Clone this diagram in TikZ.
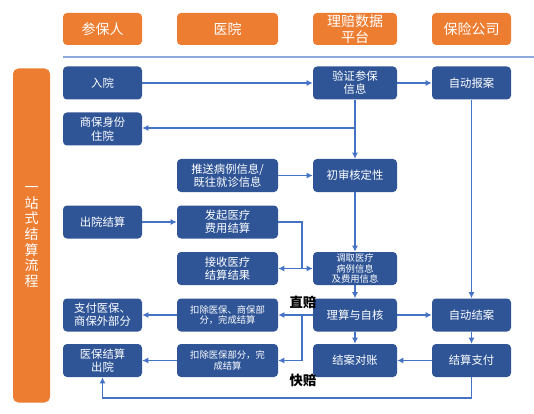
\documentclass[tikz,border=0pt]{standalone}
\usepackage{fontspec}
\setmainfont{Noto Sans CJK SC}
\usetikzlibrary{arrows.meta}
\definecolor{hdorange}{HTML}{ED7D31}
\definecolor{bxblue}{HTML}{2F5597}
\definecolor{lnblue}{HTML}{4472C4}
\definecolor{rule}{HTML}{8FAADC}
\tikzset{
  hdr/.style={fill=hdorange, text=white, rounded corners=3pt, minimum height=32*0.75pt, inner sep=1pt, align=center, font=\fontsize{10.5}{12}\selectfont},
  bx/.style={fill=bxblue, text=white, rounded corners=3pt, minimum height=33*0.75pt, inner sep=1pt, align=center, font=\fontsize{8.5}{10}\selectfont},
  small/.style={font=\fontsize{7}{8}\selectfont},
  c1/.style={minimum width=79*0.75pt},
  c2/.style={minimum width=101*0.75pt},
  c3/.style={minimum width=84*0.75pt},
  c4/.style={minimum width=79*0.75pt},
  arr/.style={draw=lnblue, line width=0.9pt, -{Latex[length=4.5pt,width=4.5pt]}},
  ln/.style={draw=lnblue, line width=0.9pt},
  lbl/.style={font=\fontsize{10}{12}\selectfont\bfseries, text=black, inner sep=1pt}
}
\begin{document}
\begin{tikzpicture}[x=0.75pt,y=-0.75pt]
\useasboundingbox (0,0) rectangle (534,413);
% headers
\node[hdr,c1] (h1) at (102.5,29) {参保人};
\node[hdr,c2] (h2) at (227.5,29) {医院};
\node[hdr,c3] (h3) at (355,29) {理赔数据\\平台};
\node[hdr,c4] (h4) at (471.5,29) {保险公司};
\draw[rule, line width=0.8pt] (63,57) -- (534,57);
% side bar
\node[fill=hdorange, rounded corners=4pt, minimum width=37*0.75pt, minimum height=334*0.75pt, inner sep=0pt] (side) at (31.5,235.5) {};
\node[text=white, align=center, font=\fontsize{10.5}{11.8}\selectfont] (sidet) at (31.5,237) {一\\站\\式\\结\\算\\流\\程};
% row 1
\node[bx,c1] (ruyuan) at (102.5,83) {入院};
\node[bx,c3] (yanzheng) at (355,83) {验证参保\\信息};
\node[bx,c4] (baoan) at (471.5,83) {自动报案};
% row 2
\node[bx,c1] (shangbao) at (102.5,129) {商保身份\\住院};
% row 3
\node[bx,c2] (tuisong) at (227.5,175.5) {推送病例信息/\\既往就诊信息};
\node[bx,c3] (chushen) at (355,175.5) {初审核定性};
% row 4
\node[bx,c1] (chuyuan) at (102.5,222) {出院结算};
\node[bx,c2] (faqi) at (227.5,222) {发起医疗\\费用结算};
% row 5
\node[bx,c2] (jieshou) at (227.5,268.5) {接收医疗\\结算结果};
\node[bx,c3,small] (diaoqu) at (355,268.5) {调取医疗\\病例信息\\及费用信息};
% row 6
\node[bx,c1] (zhifu) at (102.5,315) {支付医保、\\商保外部分};
\node[bx,c2,small] (kouchu1) at (227.5,315) {扣除医保、商保部\\分，完成结算};
\node[bx,c3] (lisuan) at (355,315) {理算与自核};
\node[bx,c4] (jiean) at (471.5,315) {自动结案};
% row 7
\node[bx,c1] (ybjs) at (102.5,360.5) {医保结算\\出院};
\node[bx,c2,small] (kouchu2) at (227.5,360.5) {扣除医保部分，完\\成结算};
\node[bx,c3] (duizhang) at (355,360.5) {结案对账};
\node[bx,c4] (jszf) at (471.5,360.5) {结算支付};
% connectors
\draw[arr] (ruyuan) -- (yanzheng);
\draw[arr] (yanzheng) -- (baoan);
\draw[arr] (yanzheng) -- (chushen);
\coordinate (b1) at (355,128);
\draw[arr] (b1) -- (shangbao.east |- b1);
\draw[arr] (tuisong) -- (chushen);
\draw[arr] (chushen) -- (diaoqu);
\draw[arr] (chuyuan) -- (faqi);
\coordinate (j1) at (302,268.5);
\draw[ln] (faqi.east) -| (j1);
\draw[arr] (j1) -- (jieshou);
\draw[arr] (j1) -- (diaoqu);
\draw[arr] (diaoqu) -- (lisuan);
\draw[arr] (lisuan) -- (jiean);
\draw[arr] (baoan) -- (jiean);
\draw[arr] (lisuan) -- (kouchu1);
\coordinate (j2) at (302,315);
\draw[arr] (j2) |- (kouchu2.east);
\node[lbl] (zhipei) at (303,302) {直赔};
\node[lbl] (kuaipei) at (303,380) {快赔};
\draw[arr] (kouchu1) -- (zhifu);
\draw[arr] (kouchu2) -- (ybjs);
\draw[arr] (lisuan) -- (duizhang);
\draw[arr] (jiean) -- (jszf);
\draw[arr] (jszf) -- (duizhang);
\coordinate (j3) at (471.5,398);
\draw[arr] (jszf.south) -- (j3) -| (ybjs.south);
\end{tikzpicture}
\end{document}
